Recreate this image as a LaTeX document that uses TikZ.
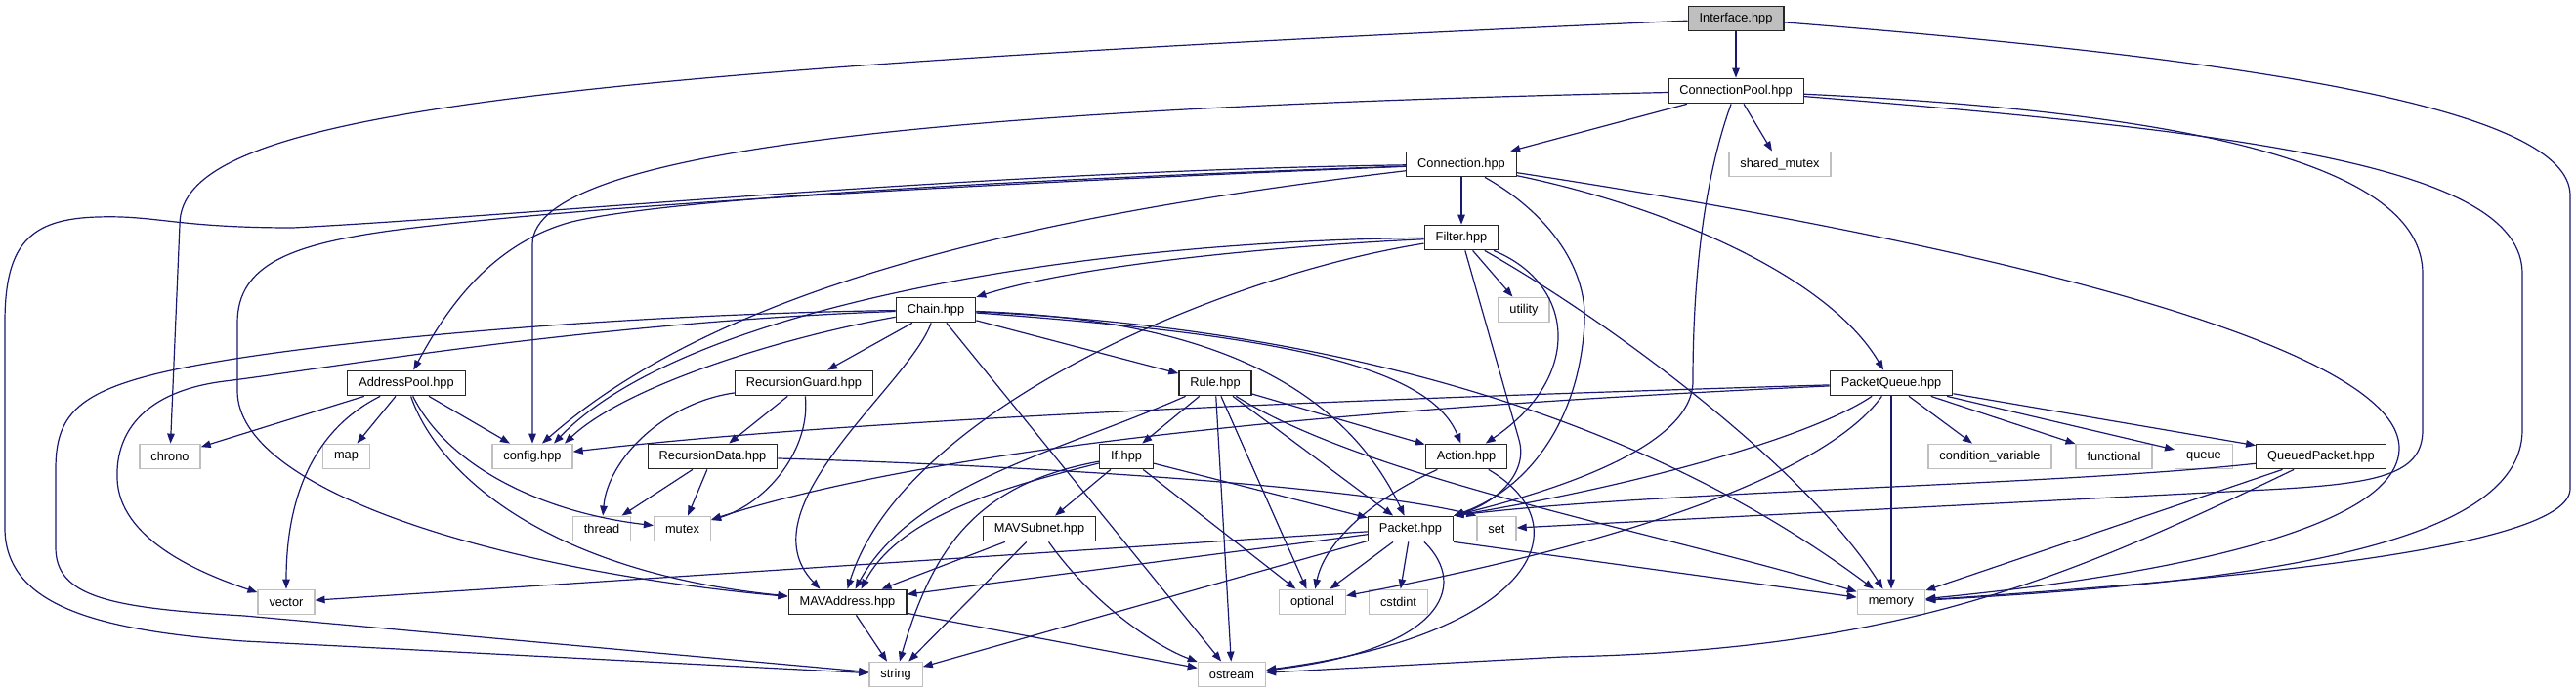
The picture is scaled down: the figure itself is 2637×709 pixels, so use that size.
\documentclass[tikz,border=0pt]{standalone}
\usepackage{fontspec}
\setmainfont{Liberation Sans}
\usetikzlibrary{arrows.meta}
\definecolor{igedge}{HTML}{191970}
\definecolor{iggray}{HTML}{BFBFBF}

\begin{document}
\begin{tikzpicture}[
    x=1pt, y=-1pt,
    ig file/.style={
        draw=black!85,
        fill=white,
        line width=1.3pt,
        font=\fontsize{12.8}{15}\selectfont,
        inner xsep=11.5pt,
        inner ysep=0pt,
        minimum height=25.5pt
    },
    ig system/.style={
        ig file,
        draw=iggray
    },
    ig root/.style={
        ig file,
        fill=iggray
    },
    ig include/.style={
        -{Triangle[length=10pt,width=7.5pt]},
        line width=1.2pt,
        draw=igedge
    }
]
    \useasboundingbox (0,0) rectangle (2637,709);

    % Projekt-Header
    \node[ig root] (iface) at (1777,19) {Interface.hpp};
    \node[ig file] (connpool) at (1777,93) {ConnectionPool.hpp};
    \node[ig file] (conn) at (1496,168) {Connection.hpp};
    \node[ig file] (filter) at (1496,243) {Filter.hpp};
    \node[ig file] (chain) at (958,317) {Chain.hpp};
    \node[ig file] (addrpool) at (416,392) {AddressPool.hpp};
    \node[ig file] (recguard) at (823,392) {RecursionGuard.hpp};
    \node[ig file] (rule) at (1244,392) {Rule.hpp};
    \node[ig file] (pktqueue) at (1936,392) {PacketQueue.hpp};
    \node[ig file] (recdata) at (729.5,467) {RecursionData.hpp};
    \node[ig file] (ifhpp) at (1153,467) {If.hpp};
    \node[ig file] (action) at (1501,467) {Action.hpp};
    \node[ig file] (queuedpkt) at (2376,467) {QueuedPacket.hpp};
    \node[ig file] (mavsubnet) at (1064,541) {MAVSubnet.hpp};
    \node[ig file] (packet) at (1444,541) {Packet.hpp};
    \node[ig file] (mavaddr) at (867.5,616) {MAVAddress.hpp};

    % Systemheader
    \foreach \name/\xpos/\ypos/\fname in {
        sharedmutex/1822/168/shared\_mutex, utility/1560/317/utility,
        chrono/174/467/chrono, map/354.5/467/map, config/545/467/config.hpp,
        condvar/2037/467/condition\_variable, functional/2164/467/functional,
        queue/2256/467/queue, thread/616/541/thread, mutex/698.5/541/mutex,
        set/1532/541/set, vector/293/616/vector, optional/1343.5/616/optional,
        cstdint/1431.5/616/cstdint, memory/1936/616/memory,
        string/917/690/string, ostream/1261/690/ostream}
        \node[ig system] (\name) at (\xpos,\ypos) {\fname};

    % Gerade Kanten
    \foreach \src/\dst in {iface/connpool, connpool/conn, connpool/sharedmutex,
        conn/filter, filter/utility, chain/recguard, chain/rule, chain/ostream,
        addrpool/chrono, addrpool/map, addrpool/config, recguard/recdata,
        recdata/thread, recdata/mutex, rule/ifhpp, rule/action, rule/packet,
        rule/optional, rule/ostream, ifhpp/mavsubnet, ifhpp/optional,
        ifhpp/packet, mavsubnet/mavaddr, mavsubnet/string, mavaddr/string,
        mavaddr/ostream, packet/vector, packet/mavaddr, packet/string,
        packet/optional, packet/cstdint, pktqueue/memory, pktqueue/condvar,
        pktqueue/functional, pktqueue/queue, pktqueue/queuedpkt,
        queuedpkt/memory}
        \draw[ig include] (\src) -- (\dst);
    \draw[ig include] (packet.south east) -- (memory);

    % Interface.hpp
    \draw[ig include] (iface) .. controls (500,75) and (184,120) .. (184,230) -- (chrono);
    \draw[ig include] (iface) .. controls (2300,60) and (2631,110) .. (2631,200)
        -- (2631,500) .. controls (2631,560) and (2300,592) .. (memory);

    % ConnectionPool.hpp
    \draw[ig include] (connpool) .. controls (1000,110) and (545,150) .. (545,250) -- (config);
    \draw[ig include] (connpool) .. controls (1738,200) and (1733,320) .. (1733,390)
        .. controls (1733,460) and (1580,505) .. (packet.north east);
    \draw[ig include] (connpool) .. controls (2250,115) and (2480,170) .. (2480,280)
        -- (2480,440) .. controls (2480,488) and (2430,496) .. (2300,502) -- (set);
    \draw[ig include] (connpool) .. controls (2300,135) and (2582,170) .. (2582,280)
        -- (2582,440) .. controls (2582,560) and (2300,596) .. (memory);

    % Connection.hpp
    \draw[ig include] (conn) .. controls (1000,175) and (550,220) .. (300,233)
        .. controls (180,233) and (160,220) .. (100,222)
        .. controls (30,224) and (5,250) .. (5,330) -- (5,540)
        .. controls (5,620) and (100,645) .. (250,656) -- (string);
    \draw[ig include] (conn) .. controls (1100,182) and (700,200) .. (585,227)
        .. controls (500,250) and (455,320) .. (addrpool);
    \draw[ig include] (conn) .. controls (1000,188) and (600,210) .. (400,236)
        .. controls (300,250) and (243,270) .. (243,330) -- (243,400)
        .. controls (243,500) and (500,582) .. (mavaddr);
    \draw[ig include] (conn) .. controls (1100,215) and (750,282) .. ([xshift=10pt]config.north);
    \draw[ig include] (conn) .. controls (1580,215) and (1625,270) .. (1622,330)
        .. controls (1617,430) and (1565,500) .. (packet.north east);
    \draw[ig include] (conn) .. controls (1700,210) and (1870,280) .. (pktqueue);
    \draw[ig include] (conn) .. controls (2000,245) and (2460,350) .. (2456,460)
        .. controls (2452,560) and (2100,600) .. (memory);

    % Filter.hpp
    \draw[ig include] (filter) .. controls (1300,252) and (1100,272) .. (chain);
    \draw[ig include] (filter) .. controls (1100,247) and (700,315) .. ([xshift=22pt]config.north);
    \draw[ig include] (filter) .. controls (1250,282) and (925,420) .. (mavaddr.north);
    \draw[ig include] (filter) -- (1555,450) .. controls (1565,485) and (1530,515) .. (packet.north east);
    \draw[ig include] (filter) .. controls (1612,290) and (1622,385) .. (action);
    \draw[ig include] (filter) .. controls (1650,330) and (1850,480) .. (memory);

    % Chain.hpp
    \draw[ig include] (chain) .. controls (600,322) and (260,355) .. (150,385)
        .. controls (75,405) and (57,430) .. (57,480) -- (57,560)
        .. controls (57,610) and (110,622) .. (250,630) -- (string);
    \draw[ig include] (chain) .. controls (600,330) and (330,378) .. (230,390)
        .. controls (150,400) and (118,440) .. (120,490)
        .. controls (122,550) and (200,585) .. (vector);
    \draw[ig include] (chain) .. controls (800,345) and (640,395) .. ([xshift=33pt]config.north);
    \draw[ig include] (chain) .. controls (930,395) and (760,520) .. ([xshift=-28pt]mavaddr.north);
    \draw[ig include] (chain) .. controls (1180,325) and (1360,365) .. (packet);
    \draw[ig include] (chain) .. controls (1300,342) and (1462,372) .. (action);
    \draw[ig include] (chain) .. controls (1400,338) and (1700,440) .. (memory);

    % AddressPool.hpp, RecursionGuard.hpp, RecursionData.hpp
    \draw[ig include] (addrpool) .. controls (320,440) and (293,510) .. (vector);
    \draw[ig include] (addrpool) .. controls (460,480) and (560,525) .. (mutex);
    \draw[ig include] (addrpool) .. controls (448,485) and (560,585) .. (mavaddr);
    \draw[ig include] (recguard) .. controls (680,412) and (622,470) .. (thread);
    \draw[ig include] (recguard) .. controls (830,460) and (785,515) .. (mutex);
    \draw[ig include] (recdata) .. controls (1100,478) and (1400,500) .. (set.north west);

    % Rule.hpp, If.hpp, MAVSubnet.hpp
    \draw[ig include] (rule) .. controls (1085,462) and (935,495) .. ([xshift=8pt]mavaddr.north);
    \draw[ig include] (rule) .. controls (1400,490) and (1700,545) .. (memory);
    \draw[ig include] (ifhpp) .. controls (1020,500) and (920,530) .. ([xshift=14pt]mavaddr.north);
    \draw[ig include] (ifhpp) .. controls (1000,495) and (955,560) .. (string);
    \draw[ig include] (mavsubnet) .. controls (1120,620) and (1185,662) .. (ostream);

    % Packet.hpp, Action.hpp
    \draw[ig include] (packet) .. controls (1505,600) and (1475,665) .. (ostream);
    \draw[ig include] (action) .. controls (1395,515) and (1355,560) .. (optional);
    \draw[ig include] (action) .. controls (1625,540) and (1565,650) .. (ostream);

    % PacketQueue.hpp, QueuedPacket.hpp
    \draw[ig include] (pktqueue) .. controls (1500,405) and (900,425) .. (config);
    \draw[ig include] (pktqueue) .. controls (1500,412) and (1000,445) .. (mutex);
    \draw[ig include] (pktqueue) .. controls (1850,450) and (1660,500) .. (packet.north east);
    \draw[ig include] (pktqueue) .. controls (1880,470) and (1720,545) .. (optional);
    \draw[ig include] (queuedpkt) .. controls (2100,497) and (1700,502) .. (packet.north east);
    \draw[ig include] (queuedpkt) .. controls (2120,590) and (1950,665) .. (1600,672) -- (ostream);
\end{tikzpicture}
\end{document}
